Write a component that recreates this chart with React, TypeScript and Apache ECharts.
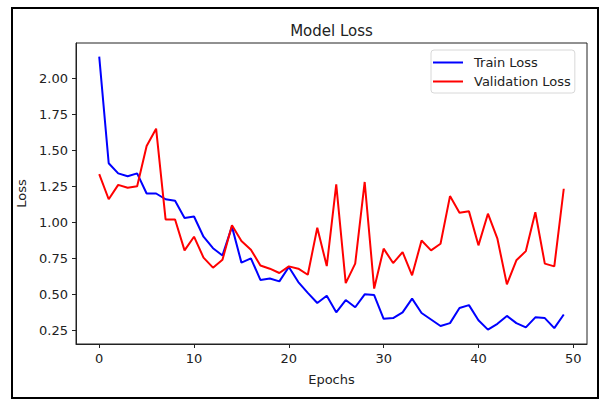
import React, { useEffect, useRef } from "react";
import * as echarts from "echarts";

const epochs: number[] = Array.from({ length: 50 }, (_, i) => i);
const trainLoss: number[] = [
  2.15, 1.41, 1.34, 1.32, 1.34, 1.2, 1.2, 1.16, 1.15, 1.03,
  1.04, 0.9, 0.82, 0.77, 0.97, 0.72, 0.75, 0.6, 0.61, 0.59,
  0.69, 0.585, 0.51, 0.44, 0.49, 0.375, 0.46, 0.41, 0.5, 0.495,
  0.33, 0.335, 0.375, 0.47, 0.37, 0.325, 0.28, 0.3, 0.405, 0.425,
  0.32, 0.255, 0.295, 0.35, 0.3, 0.27, 0.34, 0.335, 0.265, 0.36,
];
const valLoss: number[] = [
  1.335, 1.16, 1.26, 1.24, 1.25, 1.53, 1.65, 1.02, 1.02, 0.805,
  0.9, 0.755, 0.685, 0.74, 0.98, 0.87, 0.81, 0.7, 0.678, 0.648,
  0.694, 0.678, 0.636, 0.962, 0.696, 1.263, 0.578, 0.713, 1.28, 0.54,
  0.817, 0.717, 0.793, 0.632, 0.874, 0.805, 0.851, 1.182, 1.067, 1.076,
  0.84, 1.06, 0.886, 0.569, 0.736, 0.8, 1.07, 0.713, 0.694, 1.233,
];
const xTicks: number[] = [0, 10, 20, 30, 40, 50];
const yTicks: number[] = [0.25, 0.5, 0.75, 1.0, 1.25, 1.5, 1.75, 2.0];
const chartTitle = "Model Loss";

export default function App() {
  const ref = useRef<HTMLDivElement>(null);
  useEffect(() => {
    if (!ref.current) return;
    const chart = echarts.init(ref.current, null, { renderer: "svg" });
    const font = "DejaVu Sans";
    const txt = "#222";
    chart.setOption({
      animation: false,
      backgroundColor: "#fff",
      textStyle: { fontFamily: font },
      legend: {
        orient: "vertical",
        left: 431,
        top: 50,
        padding: [6, 4, 5, 2],
        itemGap: 6,
        itemWidth: 30,
        itemHeight: 2,
        icon: "rect",
        borderColor: "#d8d8d8",
        borderWidth: 1,
        borderRadius: 3,
        backgroundColor: "#fff",
        textStyle: { fontFamily: font, fontSize: 13, color: txt, padding: [0, 0, 0, 6], lineHeight: 13 },
        data: ["Train Loss", "Validation Loss"],
      },
      grid: {
        left: 76,
        top: 43,
        width: 511,
        height: 301,
        show: true,
        borderColor: "#222",
        borderWidth: 1,
        containLabel: false,
      },
      xAxis: {
        type: "value",
        min: -2.45,
        max: 51.45,
        name: "Epochs",
        nameLocation: "middle",
        nameGap: 29,
        nameTextStyle: { fontFamily: font, fontSize: 13, color: txt },
        axisLine: { show: true, onZero: false, lineStyle: { color: "#222", width: 1 } },
        axisTick: { show: true, inside: false, length: 4, customValues: xTicks, lineStyle: { color: "#222" } },
        axisLabel: {
          customValues: xTicks,
          margin: 8,
          fontFamily: font,
          fontSize: 13,
          color: txt,
          showMinLabel: true,
          showMaxLabel: true,
        },
        splitLine: { show: false },
      },
      yAxis: {
        type: "value",
        min: 0.155,
        max: 2.245,
        name: "Loss",
        nameLocation: "middle",
        nameGap: 47,
        nameTextStyle: { fontFamily: font, fontSize: 13, color: txt },
        axisLine: { show: true, onZero: false, lineStyle: { color: "#222", width: 1 } },
        axisTick: { show: true, inside: false, length: 4, customValues: yTicks, lineStyle: { color: "#222" } },
        axisLabel: {
          customValues: yTicks,
          margin: 8,
          fontFamily: font,
          fontSize: 13,
          color: txt,
          formatter: (v: number) => v.toFixed(2),
        },
        splitLine: { show: false },
      },
      series: [
        {
          name: "Train Loss",
          type: "line",
          data: epochs.map((e, i) => [e, trainLoss[i]]),
          showSymbol: false,
          symbol: "none",
          color: "#0000ff",
          lineStyle: { color: "#0000ff", width: 2 },
        },
        {
          name: "Validation Loss",
          type: "line",
          data: epochs.map((e, i) => [e, valLoss[i]]),
          showSymbol: false,
          symbol: "none",
          color: "#ff0000",
          lineStyle: { color: "#ff0000", width: 2 },
        },
      ],
      graphic: [
        {
          type: "rect",
          shape: { x: 12, y: 8, width: 586, height: 390 },
          style: { fill: "none", stroke: "#000", lineWidth: 2 },
          silent: true,
        },
        {
          type: "text",
          x: 331.5,
          y: 31,
          style: {
            text: chartTitle,
            fontFamily: font,
            fontSize: 15,
            fill: txt,
            textAlign: "center",
            textVerticalAlign: "middle",
          },
          silent: true,
        },
      ],
    });
    return () => chart.dispose();
  }, []);
  return (
    <div
      ref={ref}
      style={{ position: "absolute", left: 0, top: 0, width: 605, height: 401 }}
    />
  );
}
